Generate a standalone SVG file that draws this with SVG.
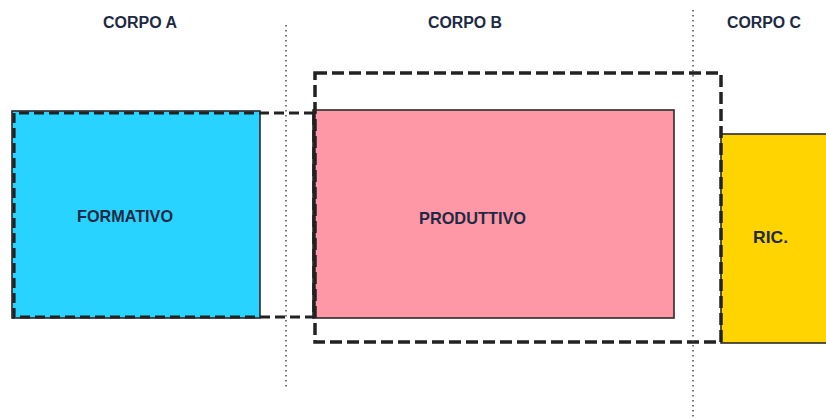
<svg xmlns="http://www.w3.org/2000/svg" width="826" height="418" viewBox="0 0 826 418">
<style>
.lbl{font-family:"Liberation Sans Narrow","Liberation Sans",Arial,sans-serif;font-weight:bold;fill:#1e2a44;}
.box{stroke:#2a2a2a;stroke-width:1.6;}
.dash{fill:none;stroke:#222;stroke-width:3.5;stroke-dasharray:12 5;}
.dot{fill:none;stroke:#555;stroke-width:1.6;stroke-dasharray:1.6 3.4;}
</style>
<rect width="826" height="418" fill="#fff"/>
<g id="headers">
<text class="lbl" x="103" y="28" font-size="16" textLength="74" lengthAdjust="spacingAndGlyphs">CORPO A</text>
<text class="lbl" x="428" y="28" font-size="16" textLength="74" lengthAdjust="spacingAndGlyphs">CORPO B</text>
<text class="lbl" x="727" y="28" font-size="16" textLength="74" lengthAdjust="spacingAndGlyphs">CORPO C</text>
</g>
<g id="formativo">
<rect class="box" x="12" y="111" width="248" height="207" fill="#29D3FF"/>
<text class="lbl" x="77" y="222" font-size="17" textLength="96" lengthAdjust="spacingAndGlyphs">FORMATIVO</text>
</g>
<g id="produttivo">
<rect class="box" x="313" y="110" width="361" height="208" fill="#FF98A6"/>
<text class="lbl" x="419" y="224" font-size="17" textLength="107" lengthAdjust="spacingAndGlyphs">PRODUTTIVO</text>
</g>
<g id="ric">
<rect class="box" x="721" y="134" width="110" height="209" fill="#FFD400"/>
<text class="lbl" x="753" y="243" font-size="17" textLength="35" lengthAdjust="spacingAndGlyphs">RIC.</text>
</g>
<g id="connectors">
<path class="dash" d="M314 113 H14 V317 H314" style="stroke-width:3.2;stroke-dasharray:10 5"/>
<path class="dash" d="M314 113 V317"/>
<rect class="dash" x="315" y="73" width="406" height="269"/>
<line class="dot" x1="286" y1="25" x2="286" y2="390"/>
<line class="dot" x1="693" y1="10" x2="693" y2="418"/>
</g>
</svg>
